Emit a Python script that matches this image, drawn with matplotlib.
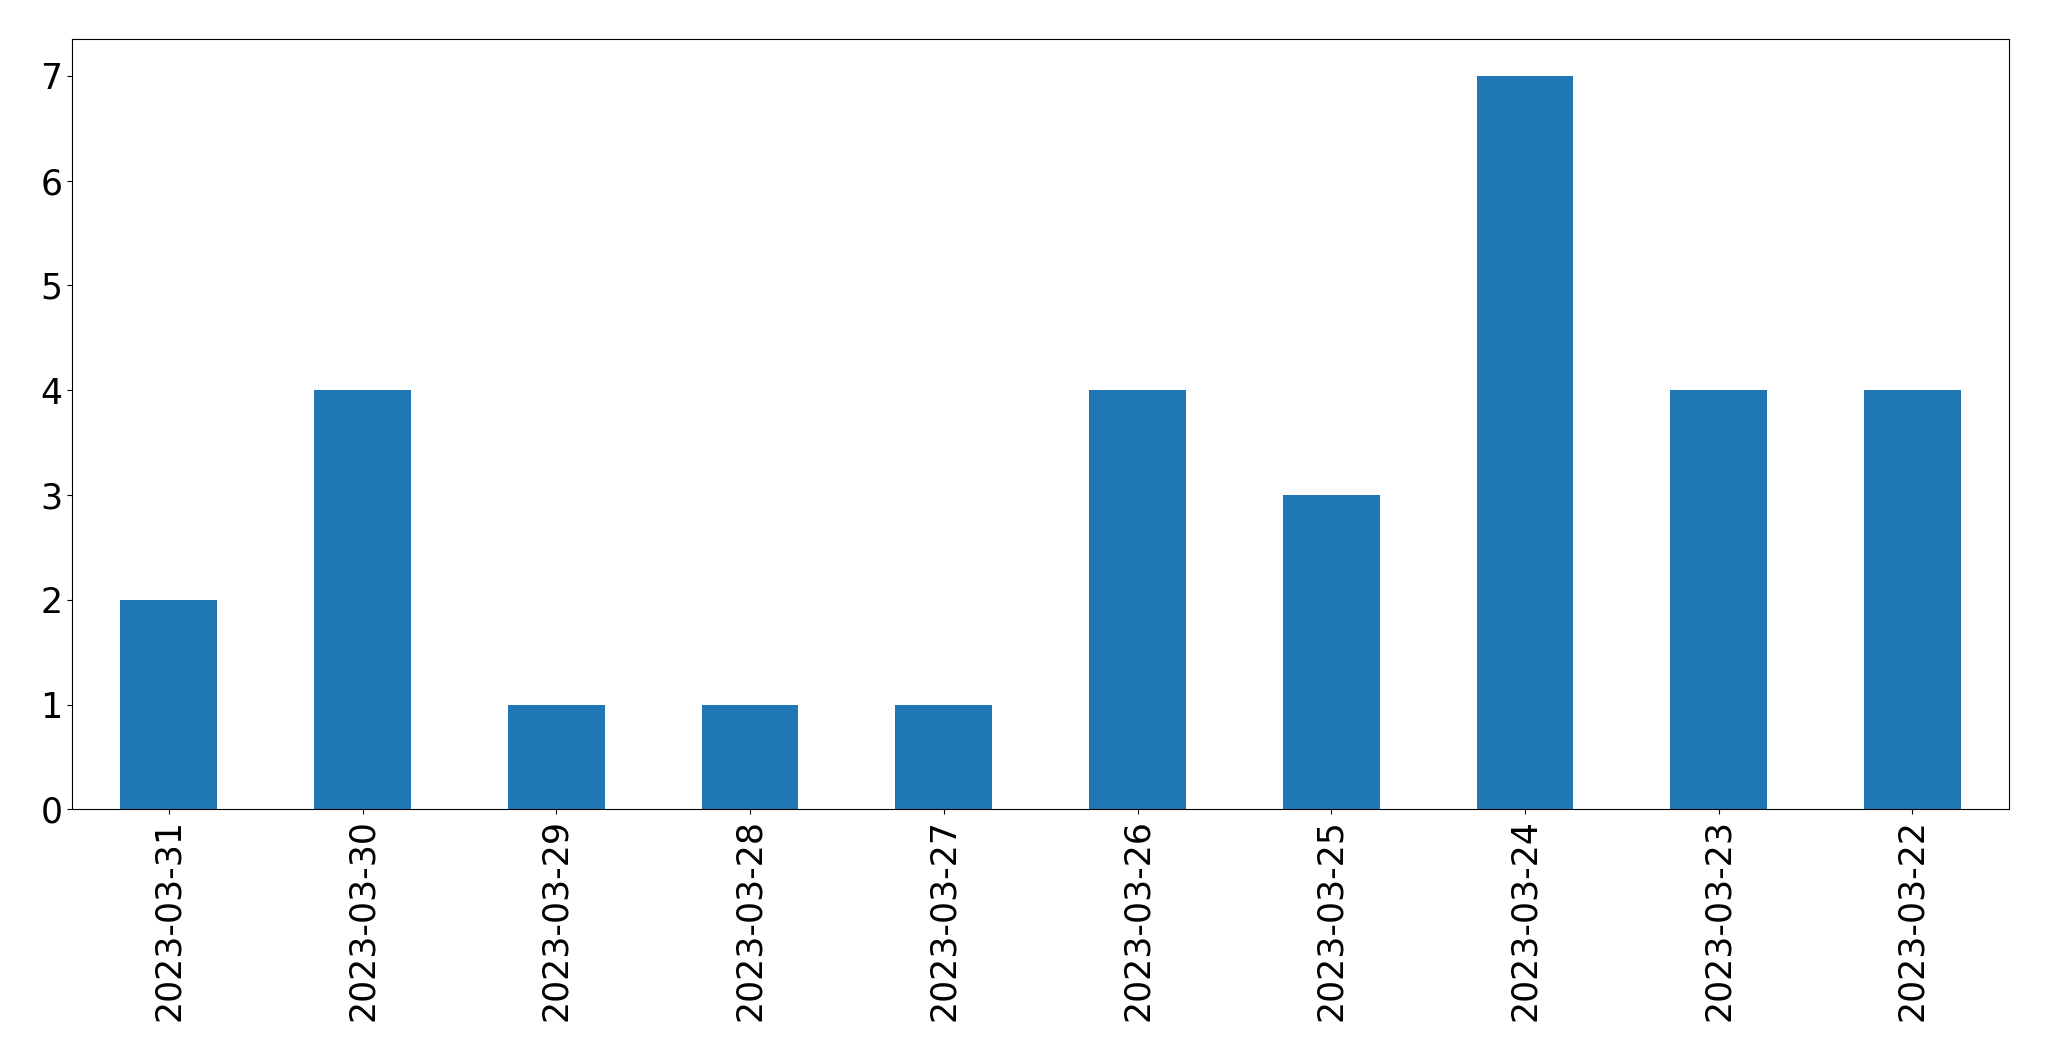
import matplotlib
matplotlib.use("Agg")
import matplotlib.pyplot as plt
import pandas as pd

dates = ["2023-03-31", "2023-03-30", "2023-03-29", "2023-03-28", "2023-03-27",
         "2023-03-26", "2023-03-25", "2023-03-24", "2023-03-23", "2023-03-22"]
counts = [2, 4, 1, 1, 1, 4, 3, 7, 4, 4]

s = pd.Series(counts, index=dates)

fig = plt.figure(figsize=(20.49, 10.61), dpi=100)
ax = fig.add_axes([72 / 2049, 1 - 809.3 / 1061, (2009.3 - 72) / 2049, (809.3 - 39.3) / 1061])
s.plot(kind="bar", ax=ax, color="#1f77b4")
ax.tick_params(axis="both", labelsize=25)

fig.savefig("out.png", dpi=100)
